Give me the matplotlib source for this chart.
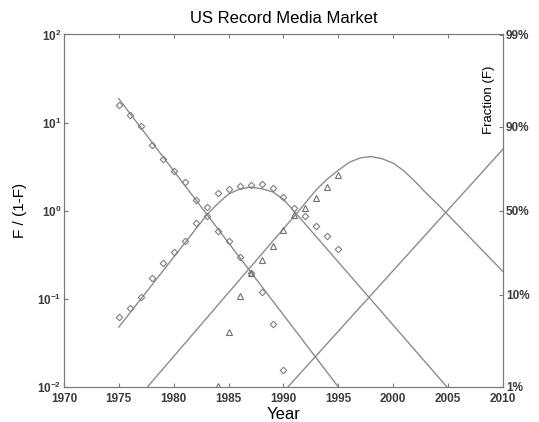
import math
import matplotlib
matplotlib.use('Agg')
import matplotlib.pyplot as plt
from matplotlib.ticker import NullLocator, FuncFormatter

vinyl_years = list(range(1975, 1991))
vinyl = [15.9, 12.2, 9.2, 5.6, 3.9, 2.85, 2.1, 1.33, 0.87, 0.59,
         0.45, 0.30, 0.197, 0.119, 0.052, 0.0156]

cassette_years = list(range(1975, 1996))
cassette = [0.062, 0.078, 0.106, 0.174, 0.254, 0.338, 0.458, 0.72, 1.11, 1.58,
            1.77, 1.93, 1.96, 2.01, 1.82, 1.45, 1.07, 0.87, 0.67, 0.52, 0.37]

cd_years = list(range(1984, 1996))
cd = [0.0103, 0.0425, 0.108, 0.197, 0.277, 0.40, 0.605, 0.895,
      1.07, 1.39, 1.88, 2.55]

# fitted substitution curves
fit_vinyl_years = [1975, 1995]
fit_vinyl = [18.6, 0.01]

fit_cassette_years = [1975, 1983, 1984, 1985, 1986, 1987, 1988, 1989, 1990, 1991, 2004.9]
fit_cassette = [0.0479, 0.891, 1.202, 1.549, 1.758, 1.854, 1.778, 1.641, 1.349, 0.977, 0.01]

fit_cd_years = [1977.6, 1991.2, 1992, 1993, 1994, 1995, 1996, 1997, 1998,
                1999, 2000, 2001, 2002, 2003, 2004, 2010]
fit_cd = [0.01, 0.933, 1.23, 1.738, 2.291, 2.884, 3.548, 3.981, 4.121,
          3.890, 3.467, 2.818, 2.138, 1.585, 1.202, 0.204]

fit_next_years = [1990.4, 2010]
fit_next = [0.01, 5.0]

x_ticks = list(range(1970, 2011, 5))
frac_ticks = [99, 9, 1, 1 / 9, 1 / 99]
frac_labels = ['99%', '90%', '50%', '10%', '1%']

plt.rcParams['font.family'] = ['Liberation Sans', 'DejaVu Sans']
plt.rcParams['mathtext.fontset'] = 'custom'
plt.rcParams['mathtext.rm'] = 'Liberation Sans:bold'
plt.rcParams['mathtext.bf'] = 'Liberation Sans:bold'

line_color = '#8c8c8c'
axis_color = '#7a7a7a'
label_color = '#3c3c3c'

fig = plt.figure(figsize=(5.39, 4.22), dpi=100)
ax = fig.add_axes([0.1187, 0.0829, 0.8145, 0.8354])

for xs, ys in [(fit_vinyl_years, fit_vinyl), (fit_cassette_years, fit_cassette),
               (fit_cd_years, fit_cd), (fit_next_years, fit_next)]:
    ax.plot(xs, ys, color=line_color, lw=1.0)

ax.plot(vinyl_years, vinyl, linestyle='none', marker='D', ms=3.3,
        mfc='none', mec='#808080', mew=0.8)
ax.plot(cassette_years, cassette, linestyle='none', marker='D', ms=3.3,
        mfc='none', mec='#808080', mew=0.8)
ax.plot(cd_years, cd, linestyle='none', marker='^', ms=4.2,
        mfc='none', mec='#707070', mew=0.8)

ax.set_yscale('log')
ax.set_xlim(1970, 2010)
ax.set_ylim(0.01, 100)
ax.set_xticks(x_ticks)
ax.yaxis.set_minor_locator(NullLocator())
ax.yaxis.set_major_formatter(FuncFormatter(lambda v, p: r'$10^{%d}$' % round(math.log10(v))))
ax.tick_params(direction='in', top=True, length=3, color=axis_color,
               labelsize=8.5, labelcolor=label_color, pad=2)
ax.tick_params(axis='x', pad=4)
for lab in ax.get_xticklabels():
    lab.set_fontweight('bold')
for s in ax.spines.values():
    s.set_color(axis_color)

ax2 = ax.twinx()
ax2.set_yscale('log')
ax2.set_ylim(0.01, 100)
ax2.set_yticks(frac_ticks)
ax2.set_yticklabels(frac_labels)
ax2.yaxis.set_minor_locator(NullLocator())
ax2.tick_params(direction='in', length=3, color=axis_color,
                labelsize=8.5, labelcolor=label_color, pad=2)
for lab in ax2.get_yticklabels():
    lab.set_fontweight('bold')
for s in ax2.spines.values():
    s.set_color(axis_color)

ax.set_title('US Record Media Market', fontsize=12, pad=8)
ax.set_ylabel('F / (1-F)', fontsize=11)
ax.yaxis.set_label_coords(-0.085, 0.5)
ax.set_xlabel('Year', fontsize=12)
ax.xaxis.set_label_coords(0.5, -0.056)
ax.text(0.968, 0.814, 'Fraction (F)', transform=ax.transAxes, rotation=90,
        fontsize=9.5, ha='center', va='center')

fig.savefig('out.png', dpi=100)
